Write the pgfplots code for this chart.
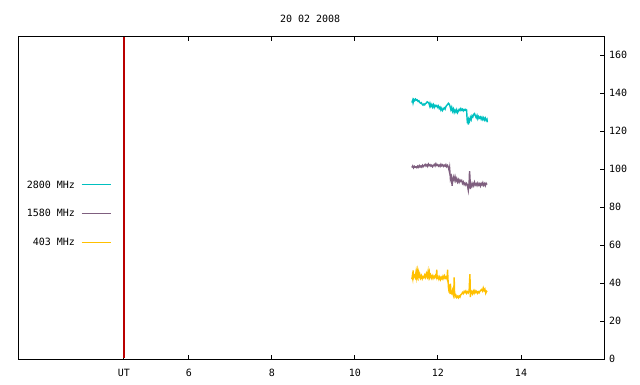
\documentclass[border=0pt]{standalone}
\usepackage{fontspec}
\setmainfont{DejaVu Sans Mono}
\usepackage{pgfplots}
\pgfplotsset{compat=1.18}
\definecolor{cyanc}{HTML}{00C0C0}
\definecolor{purc}{HTML}{7F5F7F}
\definecolor{goldc}{HTML}{FFC000}
\definecolor{redc}{RGB}{185,0,0}
\begin{document}
\fontsize{10pt}{12pt}\selectfont
\begin{tikzpicture}
\useasboundingbox (0,0) rectangle (640pt,384pt);
\begin{axis}[
  at={(18pt,25pt)}, anchor=south west,
  scale only axis, width=586pt, height=323pt,
  xmin=1.88, xmax=16, ymin=0, ymax=170,
  axis line style={line width=1pt, black},
  xtick={4.43,6,8,10,12,14},
  xticklabels={UT,6,8,10,12,14},
  ytick={0,20,40,60,80,100,120,140,160},
  ytick pos=right, yticklabel pos=right,
  xticklabel pos=lower,
  tick align=inside,
  major tick length=4.5pt,
  tick style={line width=1pt, black},
  /pgf/number format/assume math mode=true,
  xticklabel style={anchor=center, yshift=-13.7pt, inner sep=0pt},
  yticklabel style={anchor=west, inner sep=0pt, xshift=5pt},
  legend plot pos=right,
  legend cell align=right,
  legend image code/.code={\draw[#1, line width=1pt] (0pt,0pt) -- (29pt,0pt);},
  legend style={draw=none, fill=none, inner sep=0pt, outer sep=0pt,
    at={(axis description cs:0.1587,0.451)}, anchor=east,
    row sep=21.5pt, column sep=6pt,
    nodes={inner sep=0pt, text height=7.3pt, text depth=0pt}},
  clip=false,
]
\node[inner sep=0pt, anchor=center] at (rel axis cs:0.4985,1.052) {20 02 2008};
\addplot[color=cyanc, line width=1.4pt] table {
11.37 135.0
11.39 136.2
11.40 134.8
11.42 136.6
11.44 136.0
11.46 136.8
11.48 136.2
11.50 136.4
11.52 135.6
11.54 135.9
11.56 135.0
11.58 134.6
11.60 134.9
11.62 134.0
11.64 133.6
11.66 134.2
11.68 133.8
11.70 134.5
11.72 134.7
11.74 135.4
11.76 135.1
11.78 134.6
11.80 133.2
11.81 134.4
11.83 133.0
11.85 134.0
11.87 132.6
11.89 133.8
11.91 132.4
11.93 133.5
11.95 132.9
11.97 133.4
11.99 132.5
12.01 133.2
12.03 131.8
12.05 132.5
12.07 131.0
12.09 132.0
12.11 130.8
12.13 131.6
12.15 132.2
12.17 131.5
12.19 132.8
12.21 133.5
12.23 133.9
12.25 134.6
12.27 134.2
12.29 133.0
12.31 131.2
12.33 132.5
12.35 130.4
12.37 131.6
12.39 129.8
12.41 131.0
12.43 130.0
12.45 131.2
12.47 129.6
12.49 130.5
12.51 131.4
12.53 130.8
12.55 131.8
12.57 131.0
12.59 131.5
12.61 130.6
12.63 131.3
12.65 130.9
12.67 131.4
12.69 131.0
12.70 126.5
12.71 124.0
12.72 127.0
12.73 123.4
12.74 126.2
12.76 125.2
12.78 127.2
12.80 126.0
12.82 128.0
12.84 127.4
12.86 128.8
12.88 129.2
12.90 128.0
12.92 127.0
12.94 128.2
12.96 126.4
12.98 127.6
13.00 126.8
13.02 127.4
13.04 126.2
13.06 127.2
13.08 126.0
13.10 127.0
13.12 125.8
13.14 126.8
13.16 125.6
13.18 126.2
13.19 124.6
};
\addlegendentry{2800 MHz}
\addplot[color=purc, line width=1.4pt] table {
11.37 100.8
11.39 101.6
11.41 100.6
11.43 101.4
11.45 100.9
11.47 101.2
11.49 100.7
11.51 101.5
11.53 100.9
11.55 101.8
11.57 101.1
11.59 101.6
11.61 101.0
11.63 102.0
11.65 101.3
11.67 101.8
11.69 102.4
11.71 101.6
11.73 102.2
11.75 101.4
11.77 102.6
11.79 101.8
11.81 102.2
11.83 101.5
11.85 102.0
11.87 101.2
11.89 101.9
11.91 102.4
11.93 101.6
11.95 102.8
11.97 101.9
11.99 102.3
12.01 101.5
12.03 102.1
12.05 101.4
12.07 102.5
12.09 101.7
12.11 102.2
12.13 101.4
12.15 102.0
12.17 101.5
12.19 102.3
12.21 101.2
12.23 101.9
12.25 101.0
12.27 99.0
12.28 100.5
12.30 94.6
12.32 96.0
12.34 91.2
12.35 93.5
12.37 95.8
12.39 94.2
12.41 96.0
12.43 93.8
12.45 95.0
12.47 93.2
12.49 94.4
12.51 93.0
12.53 94.2
12.55 93.5
12.57 94.0
12.59 92.4
12.61 93.2
12.63 91.8
12.65 92.6
12.67 91.6
12.69 92.4
12.71 91.4
12.73 88.8
12.75 93.0
12.76 98.8
12.77 96.0
12.78 89.5
12.80 92.2
12.82 91.0
12.84 92.4
12.86 91.2
12.88 93.0
12.90 91.6
12.92 92.3
12.94 91.3
12.96 92.6
12.98 91.5
13.00 92.2
13.02 91.0
13.04 92.4
13.06 91.6
13.08 92.8
13.10 91.4
13.12 92.3
13.14 91.2
13.16 92.5
13.18 91.8
};
\addlegendentry{1580 MHz}
\addplot[color=goldc, line width=1.4pt] table {
11.37 42.0
11.38 43.5
11.39 42.4
11.40 46.6
11.41 42.8
11.43 44.0
11.45 43.0
11.47 45.8
11.48 43.2
11.50 46.2
11.51 43.6
11.53 45.6
11.54 43.0
11.56 44.6
11.58 42.6
11.60 43.8
11.62 42.2
11.64 43.4
11.66 42.8
11.68 44.2
11.70 43.0
11.72 45.0
11.74 43.4
11.76 46.0
11.77 43.6
11.79 45.6
11.80 43.0
11.82 44.2
11.84 42.6
11.86 43.8
11.88 42.4
11.90 43.6
11.92 42.8
11.94 44.0
11.96 43.0
11.97 47.0
11.98 42.6
12.00 43.4
12.02 42.0
12.04 43.2
12.06 41.8
12.08 43.0
12.10 42.2
12.12 43.6
12.14 42.4
12.16 43.8
12.18 42.6
12.20 43.2
12.22 42.0
12.23 47.0
12.24 42.4
12.25 38.0
12.26 36.5
12.27 35.0
12.28 39.2
12.29 34.2
12.30 39.6
12.31 35.0
12.33 34.4
12.35 36.2
12.37 33.8
12.38 35.2
12.39 43.0
12.40 34.6
12.41 32.8
12.43 33.6
12.45 32.4
12.47 33.0
12.49 32.2
12.51 33.2
12.53 32.6
12.55 33.8
12.57 34.2
12.59 35.0
12.61 34.4
12.63 35.6
12.65 35.0
12.67 35.8
12.69 34.6
12.71 35.4
12.73 34.8
12.75 36.0
12.76 41.0
12.77 44.6
12.78 32.6
12.79 34.8
12.81 35.6
12.83 34.4
12.85 35.8
12.87 34.6
12.89 36.0
12.91 35.0
12.93 35.6
12.95 34.6
12.97 35.4
12.99 34.8
13.01 35.6
13.03 36.2
13.05 36.6
13.07 35.8
13.09 37.4
13.11 36.0
13.13 36.8
13.15 34.6
13.17 35.6
13.18 35.2
};
\addlegendentry{403 MHz}
\addplot[forget plot, draw=redc, line width=1.5pt] coordinates {(4.43,0.3) (4.43,169.7)};
\end{axis}
\end{tikzpicture}
\end{document}
